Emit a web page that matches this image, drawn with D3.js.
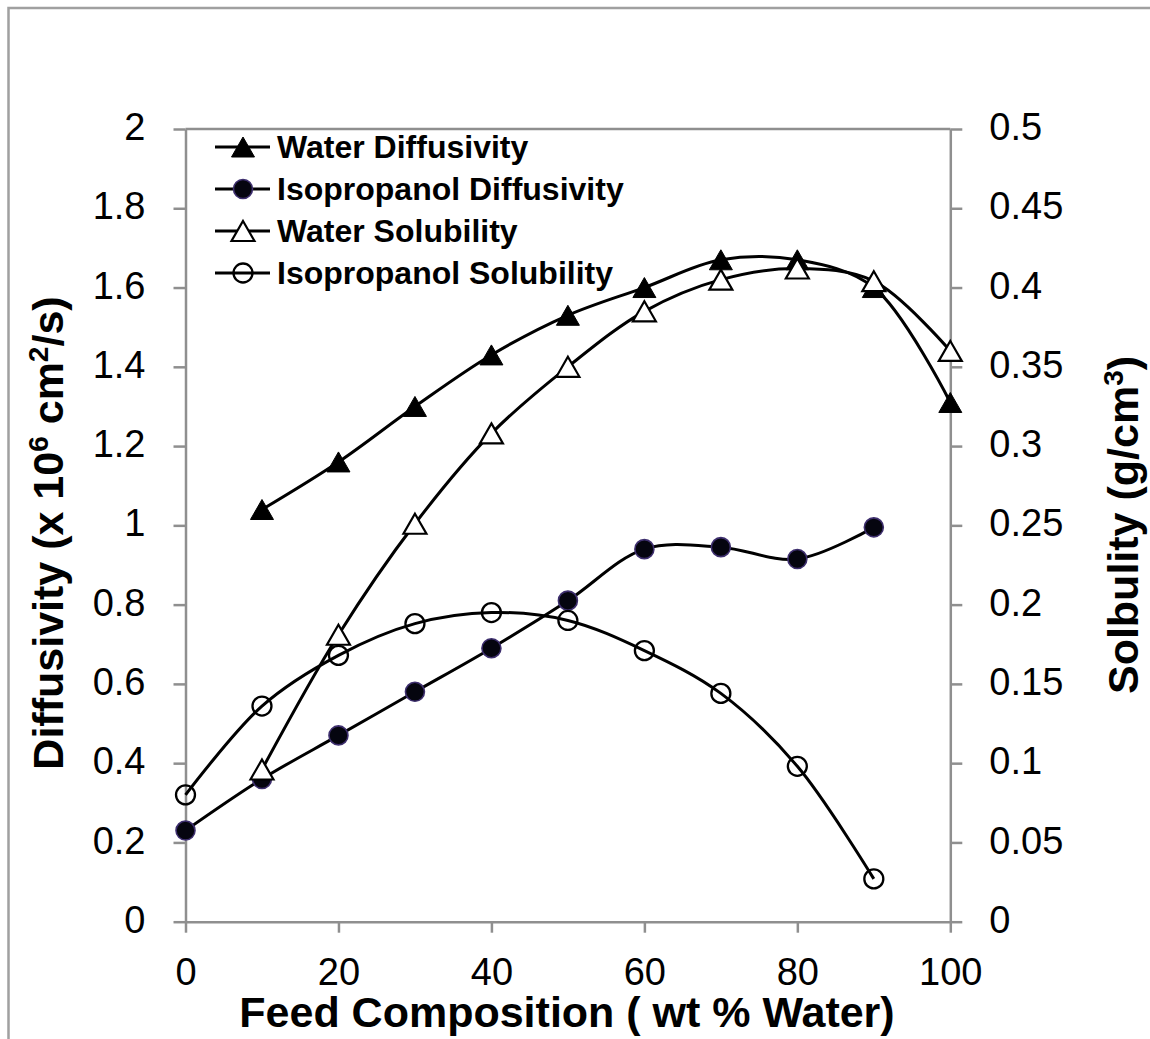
<!DOCTYPE html>
<html>
<head>
<meta charset="utf-8">
<script src="https://cdn.jsdelivr.net/npm/d3@7"></script>
<style>
  html, body { margin: 0; padding: 0; background: #fff; }
  svg { display: block; font-family: "Liberation Sans", Arial, sans-serif; }
</style>
</head>
<body>
<svg id="chart" width="1150" height="1039"></svg>
<script>
// Feed composition (wt % water) for each series
const waterDiffX = [10, 20, 30, 40, 50, 60, 70, 80, 90, 100];
const waterDiff  = [1.04, 1.16, 1.30, 1.43, 1.53, 1.60, 1.67, 1.67, 1.60, 1.31];

const ipaDiffX = [0, 10, 20, 30, 40, 50, 60, 70, 80, 90];
const ipaDiff  = [0.23, 0.36, 0.47, 0.58, 0.69, 0.81, 0.94, 0.945, 0.915, 0.995];

const waterSolX = [10, 20, 30, 40, 50, 60, 70, 80, 90, 100];
const waterSol  = [0.096, 0.181, 0.251, 0.308, 0.35, 0.385, 0.405, 0.412, 0.404, 0.36];

const ipaSolX = [0, 10, 20, 30, 40, 50, 60, 70, 80, 90];
const ipaSol  = [0.08, 0.136, 0.168, 0.188, 0.195, 0.19, 0.171, 0.144, 0.098, 0.027];

// Axis ticks
const xTicks = [0, 20, 40, 60, 80, 100];
const leftTicks = [0, 0.2, 0.4, 0.6, 0.8, 1, 1.2, 1.4, 1.6, 1.8, 2];
const rightTicks = [0, 0.05, 0.1, 0.15, 0.2, 0.25, 0.3, 0.35, 0.4, 0.45, 0.5];

const seriesNames = ["Water Diffusivity", "Isopropanol Diffusivity", "Water Solubility", "Isopropanol Solubility"];

const svg = d3.select("#chart");
const W = 1150, H = 1039;
const plot = { left: 185.5, right: 950.3, top: 129, bottom: 921.7 };
const axisColor = "#8f8f8f";

svg.append("rect").attr("width", W).attr("height", H).attr("fill", "#fff");

// outer frame
svg.append("path")
  .attr("d", `M${W + 5},8 H8.5 V${H + 5}`)
  .attr("fill", "none").attr("stroke", "#a0a0a0").attr("stroke-width", 2.5);

const x = d3.scaleLinear().domain([0, 100]).range([plot.left, plot.right]);
const yL = d3.scaleLinear().domain([0, 2]).range([plot.bottom, plot.top]);
const yR = d3.scaleLinear().domain([0, 0.5]).range([plot.bottom, plot.top]);

const fmt = d3.format("~g");

function styleAxis(g) {
  g.select(".domain").attr("stroke", axisColor).attr("stroke-width", 2.5);
  g.selectAll(".tick line").attr("stroke", axisColor).attr("stroke-width", 2.5);
  g.selectAll(".tick text").attr("fill", "#000").attr("font-size", 38)
    .attr("font-family", "'Liberation Sans', Arial, sans-serif");
}

// top border of the plot area
svg.append("line")
  .attr("x1", plot.left).attr("x2", plot.right)
  .attr("y1", plot.top).attr("y2", plot.top)
  .attr("stroke", axisColor).attr("stroke-width", 2.5);

const gx = svg.append("g").attr("transform", `translate(0,${plot.bottom})`)
  .call(d3.axisBottom(x).tickValues(xTicks).tickFormat(fmt).tickSize(11).tickSizeOuter(0).tickPadding(25));
styleAxis(gx);

const gl = svg.append("g").attr("transform", `translate(${plot.left},0)`)
  .call(d3.axisLeft(yL).tickValues(leftTicks).tickFormat(fmt).tickSize(12).tickSizeOuter(0).tickPadding(28));
styleAxis(gl);
gl.selectAll(".tick text").attr("dy", "0.28em");

const gr = svg.append("g").attr("transform", `translate(${plot.right},0)`)
  .call(d3.axisRight(yR).tickValues(rightTicks).tickFormat(fmt).tickSize(12).tickSizeOuter(0).tickPadding(27));
styleAxis(gr);
gr.selectAll(".tick text").attr("dy", "0.28em");

// axis titles
svg.append("text")
  .attr("x", 567).attr("y", 1027)
  .attr("text-anchor", "middle").attr("font-size", 43).attr("font-weight", "bold")
  .text("Feed Composition ( wt % Water)");

const lt = svg.append("text")
  .attr("transform", "translate(63,533) rotate(-90)")
  .attr("text-anchor", "middle").attr("font-size", 43).attr("font-weight", "bold");
lt.append("tspan").text("Diffusivity (x 10");
lt.append("tspan").attr("baseline-shift", "super").attr("font-size", 28).text("6");
lt.append("tspan").text(" cm");
lt.append("tspan").attr("baseline-shift", "super").attr("font-size", 28).text("2");
lt.append("tspan").text("/s)");

const rt = svg.append("text")
  .attr("transform", "translate(1138,525) rotate(-90)")
  .attr("text-anchor", "middle").attr("font-size", 43).attr("font-weight", "bold");
rt.append("tspan").text("Solbulity (g/cm");
rt.append("tspan").attr("baseline-shift", "super").attr("font-size", 28).text("3");
rt.append("tspan").text(")");

// marker drawing
const triW = 23, triH = 20, circR = 9.5;
function drawMarker(g, type, cx, cy) {
  if (type === "triFilled" || type === "triOpen") {
    g.append("path")
      .attr("d", `M${cx},${cy - triH / 2} L${cx + triW / 2},${cy + triH / 2} L${cx - triW / 2},${cy + triH / 2} Z`)
      .attr("fill", type === "triFilled" ? "#000" : "#fff")
      .attr("stroke", "#000").attr("stroke-width", type === "triFilled" ? 1 : 2.2)
      .attr("stroke-linejoin", "miter");
  } else if (type === "circFilled") {
    g.append("circle").attr("cx", cx).attr("cy", cy).attr("r", circR)
      .attr("fill", "#05050f").attr("stroke", "#3e2f6e").attr("stroke-width", 1.6);
  } else {
    g.append("circle").attr("cx", cx).attr("cy", cy).attr("r", circR)
      .attr("fill", "none").attr("stroke", "#000").attr("stroke-width", 2.3);
  }
}

const series = [
  { xs: waterDiffX, ys: waterDiff, scale: yL, marker: "triFilled" },
  { xs: ipaDiffX, ys: ipaDiff, scale: yL, marker: "circFilled" },
  { xs: waterSolX, ys: waterSol, scale: yR, marker: "triOpen" },
  { xs: ipaSolX, ys: ipaSol, scale: yR, marker: "circOpen" }
];

const plotG = svg.append("g");
series.forEach(s => {
  const pts = s.xs.map((v, i) => [x(v), s.scale(s.ys[i])]);
  const line = d3.line().curve(d3.curveCatmullRom.alpha(0.5));
  plotG.append("path").attr("d", line(pts))
    .attr("fill", "none").attr("stroke", "#000").attr("stroke-width", 3);
});
series.forEach(s => {
  const g = plotG.append("g");
  s.xs.forEach((v, i) => drawMarker(g, s.marker, x(v), s.scale(s.ys[i])));
});

// legend
const legend = svg.append("g");
const legY = [147, 189, 231, 273];
seriesNames.forEach((name, i) => {
  const y = legY[i];
  legend.append("line").attr("x1", 215).attr("x2", 270).attr("y1", y).attr("y2", y)
    .attr("stroke", "#000").attr("stroke-width", 3);
  drawMarker(legend, series[i].marker, 243, y);
  legend.append("text").attr("x", 277).attr("y", y + 11)
    .attr("font-size", 32).attr("font-weight", "bold").text(name);
});
</script>
</body>
</html>
